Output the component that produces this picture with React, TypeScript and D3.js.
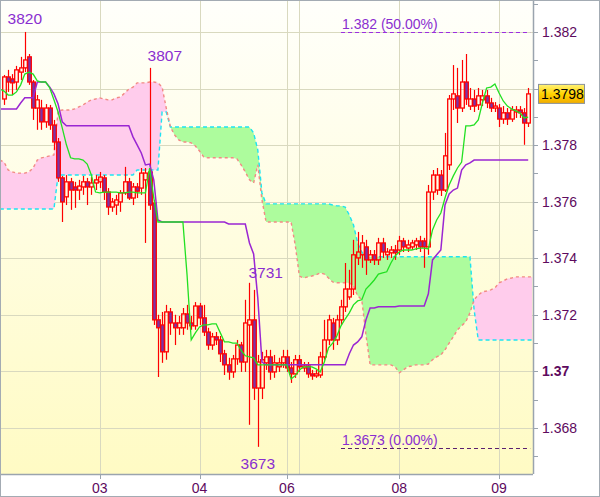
import * as React from "react";
import * as d3 from "d3";

// hourly bars, index 0..126
const OPEN = [
  1.37963, 1.38041, 1.38034, 1.38023, 1.38058, 1.38073, 1.38112, 1.38023, 1.37931, 1.37931,
  1.37882, 1.37931, 1.37871, 1.37811, 1.37684, 1.37617, 1.3767, 1.37652, 1.37641, 1.37652,
  1.3767, 1.37652, 1.37666, 1.3767, 1.37684, 1.37634, 1.37581, 1.37588, 1.37599, 1.37631,
  1.3767, 1.37613, 1.37652, 1.37648, 1.37677, 1.37705, 1.37595, 1.37182, 1.37164, 1.37069,
  1.3721, 1.37171, 1.37154, 1.37154, 1.37203, 1.37171, 1.37161, 1.37231, 1.37189, 1.37139,
  1.37093, 1.37122, 1.37111, 1.37062, 1.37023, 1.36998, 1.37044, 1.37093, 1.37033, 1.37164,
  1.37182, 1.36941, 1.36941, 1.3703, 1.37051, 1.36998, 1.37016, 1.3703, 1.37051, 1.37012,
  1.36991, 1.37041, 1.37012, 1.37019, 1.36991, 1.36984, 1.36987, 1.37051, 1.37111, 1.37171,
  1.37111, 1.37182, 1.37228, 1.37263, 1.37291, 1.37401, 1.37412, 1.3744, 1.37394, 1.37412,
  1.37394, 1.37454, 1.37412, 1.37419, 1.37429, 1.37429, 1.37461, 1.37436, 1.3744, 1.37447,
  1.37461, 1.37461, 1.3744, 1.37634, 1.37641, 1.37694, 1.37641, 1.3773, 1.37963, 1.37974,
  1.37931, 1.38023, 1.37938, 1.37963, 1.37942, 1.3796, 1.37974, 1.37949, 1.37931, 1.37931,
  1.37892, 1.37914, 1.37892, 1.37917, 1.37924, 1.37914, 1.37878,
];
const HIGH = [
  1.38048, 1.38066, 1.38051, 1.3808, 1.38112, 1.382, 1.38122, 1.3803, 1.37977, 1.3796,
  1.37945, 1.37942, 1.37889, 1.37825, 1.37691, 1.37694, 1.37684, 1.3767, 1.37677, 1.37691,
  1.37684, 1.37687, 1.37694, 1.37705, 1.37694, 1.37648, 1.37613, 1.37624, 1.37641, 1.37723,
  1.37684, 1.37666, 1.37666, 1.37719, 1.37719, 1.38073, 1.37606, 1.372, 1.3721, 1.37235,
  1.37224, 1.372, 1.37196, 1.37224, 1.37235, 1.37196, 1.37245, 1.37242, 1.37235, 1.37154,
  1.37136, 1.37139, 1.37125, 1.37076, 1.37048, 1.37058, 1.37111, 1.37104, 1.37253, 1.37313,
  1.37288, 1.37058, 1.37069, 1.37076, 1.37076, 1.37058, 1.37048, 1.37076, 1.37076, 1.37033,
  1.37058, 1.37058, 1.37033, 1.37033, 1.37005, 1.37005, 1.37069, 1.37182, 1.372, 1.37189,
  1.372, 1.37253, 1.37383, 1.37359, 1.37465, 1.37493, 1.37482, 1.37465, 1.37429, 1.37429,
  1.37472, 1.37472, 1.37436, 1.37443, 1.37447, 1.37479, 1.37472, 1.37465, 1.37465, 1.37472,
  1.37479, 1.37472, 1.37659, 1.37712, 1.37719, 1.37712, 1.37843, 1.37977, 1.38083, 1.38073,
  1.38101, 1.38122, 1.38002, 1.37995, 1.38002, 1.37995, 1.37995, 1.37967, 1.37952, 1.37945,
  1.37938, 1.37931, 1.37938, 1.37938, 1.37938, 1.37931, 1.38002,
];
const LOW = [
  1.37942, 1.37988, 1.37977, 1.37995, 1.3803, 1.38058, 1.38013, 1.37889, 1.37854, 1.37854,
  1.37861, 1.37854, 1.37783, 1.3767, 1.37528, 1.37588, 1.37571, 1.37578, 1.37606, 1.37624,
  1.37588, 1.37624, 1.37641, 1.37648, 1.37606, 1.37553, 1.37564, 1.37553, 1.37564, 1.37624,
  1.37606, 1.37588, 1.37613, 1.37624, 1.37454, 1.37571, 1.37164, 1.3698, 1.3703, 1.37041,
  1.37129, 1.37093, 1.37129, 1.37129, 1.37147, 1.37147, 1.37147, 1.37164, 1.37125, 1.37076,
  1.37076, 1.37093, 1.37033, 1.36987, 1.3697, 1.36977, 1.37023, 1.36998, 1.36998, 1.36811,
  1.36899, 1.36733, 1.36902, 1.37005, 1.3697, 1.36977, 1.36998, 1.37012, 1.36998, 1.36959,
  1.36977, 1.36998, 1.36998, 1.36977, 1.3697, 1.36977, 1.36977, 1.37041, 1.37093, 1.37076,
  1.37093, 1.37164, 1.3721, 1.37253, 1.3727, 1.37376, 1.37366, 1.37341, 1.37383, 1.37376,
  1.37376, 1.37401, 1.37394, 1.37401, 1.37394, 1.37412, 1.37422, 1.37422, 1.37429, 1.37429,
  1.37422, 1.37366, 1.37412, 1.37606, 1.37624, 1.3762, 1.37634, 1.37712, 1.37924, 1.37878,
  1.37917, 1.37942, 1.37924, 1.37917, 1.37924, 1.37938, 1.37931, 1.37917, 1.37917, 1.37864,
  1.37875, 1.37871, 1.37882, 1.37896, 1.37896, 1.37801, 1.37864,
];
const CLOSE = [
  1.38041, 1.38023, 1.3802, 1.38066, 1.38073, 1.38101, 1.38023, 1.37931, 1.3796, 1.37882,
  1.37931, 1.37871, 1.37811, 1.37684, 1.37599, 1.3767, 1.37641, 1.37641, 1.37655, 1.3767,
  1.37652, 1.37666, 1.37677, 1.37687, 1.37634, 1.37581, 1.37599, 1.37606, 1.37631, 1.3767,
  1.37613, 1.37652, 1.37637, 1.37701, 1.37701, 1.37588, 1.37182, 1.37154, 1.37069, 1.3721,
  1.37171, 1.37154, 1.37171, 1.37203, 1.37171, 1.37161, 1.37231, 1.37189, 1.37139, 1.37093,
  1.37122, 1.37111, 1.37062, 1.37023, 1.36998, 1.37044, 1.37093, 1.37033, 1.37171, 1.37182,
  1.36941, 1.37033, 1.37041, 1.37051, 1.36998, 1.3703, 1.3703, 1.37051, 1.37012, 1.36991,
  1.37041, 1.37016, 1.37019, 1.36991, 1.36984, 1.36991, 1.37051, 1.37111, 1.37182, 1.37111,
  1.37182, 1.37228, 1.37291, 1.37291, 1.37412, 1.37422, 1.37454, 1.37394, 1.37412, 1.37394,
  1.37454, 1.37422, 1.37422, 1.37429, 1.37419, 1.37461, 1.3744, 1.37447, 1.37454, 1.37461,
  1.3744, 1.3744, 1.37634, 1.37694, 1.37694, 1.37641, 1.37762, 1.37963, 1.37981, 1.37931,
  1.38023, 1.37963, 1.37963, 1.37938, 1.37974, 1.37974, 1.37949, 1.37931, 1.37938, 1.37892,
  1.37914, 1.37892, 1.37924, 1.37924, 1.37914, 1.37878, 1.37981,
];

// indicator series start one bar before the first candle
const IND_START = -1;
const TENKAN = [
  1.37998, 1.37991, 1.37977, 1.37977, 1.37988, 1.38013, 1.38051, 1.38058, 1.38051, 1.38027,
  1.38023, 1.38023, 1.38002, 1.3796, 1.37917, 1.37861, 1.37801, 1.37755, 1.37751, 1.37751,
  1.37747, 1.37733, 1.37694, 1.37634, 1.37631, 1.37634, 1.37634, 1.37634, 1.37634, 1.37631,
  1.37631, 1.37634, 1.37634, 1.37631, 1.37631, 1.37631, 1.37719, 1.37613, 1.37528, 1.37528,
  1.37528, 1.37528, 1.37528, 1.37528, 1.37528, 1.37341, 1.37111, 1.37136, 1.37157, 1.37164,
  1.37164, 1.37168, 1.37168, 1.37136, 1.37104, 1.37104, 1.371, 1.371, 1.37073, 1.37055,
  1.37051, 1.37048, 1.37023, 1.37023, 1.37023, 1.37023, 1.37023, 1.37023, 1.37023, 1.37023,
  1.36973, 1.36984, 1.37005, 1.37016, 1.37016, 1.37016, 1.37009, 1.36998, 1.37033, 1.37083,
  1.371, 1.37125, 1.37161, 1.37185, 1.37207, 1.37235, 1.37249, 1.37253, 1.37291, 1.37306,
  1.37323, 1.37344, 1.37348, 1.37352, 1.37383, 1.37408, 1.37422, 1.37429, 1.37429, 1.37429,
  1.37433, 1.37436, 1.37436, 1.37433, 1.375, 1.37535, 1.3756, 1.37613, 1.37659, 1.37691,
  1.37719, 1.3774, 1.37868, 1.37868, 1.37871, 1.37889, 1.37949, 1.38002, 1.38005, 1.38016,
  1.37984, 1.37956, 1.37938, 1.37928, 1.37921, 1.37914, 1.37896, 1.37899,
];
const KIJUN = [
  1.37928, 1.37928, 1.37928, 1.37928, 1.37928, 1.37949, 1.37967, 1.37967, 1.37967, 1.38023,
  1.38023, 1.38023, 1.38005, 1.37981, 1.37945, 1.37882, 1.37868, 1.37868, 1.37868, 1.37868,
  1.37868, 1.37868, 1.37868, 1.37868, 1.37868, 1.37868, 1.37868, 1.37868, 1.37868, 1.37868,
  1.37868, 1.37868, 1.37829, 1.37801, 1.37772, 1.3773, 1.37733, 1.37677, 1.37535, 1.37528,
  1.37528, 1.37528, 1.37528, 1.37528, 1.37528, 1.37528, 1.37528, 1.37528, 1.37528, 1.37528,
  1.37528, 1.37528, 1.37528, 1.37528, 1.37528, 1.37521, 1.37521, 1.37521, 1.37521, 1.37521,
  1.37454, 1.37415, 1.3726, 1.37033, 1.37023, 1.37023, 1.37023, 1.37023, 1.37023, 1.37023,
  1.37023, 1.37023, 1.37023, 1.37023, 1.37023, 1.37023, 1.37023, 1.37023, 1.37023, 1.37023,
  1.37023, 1.37023, 1.37023, 1.37023, 1.37062, 1.37093, 1.37104, 1.37122, 1.37182, 1.37224,
  1.37224, 1.37228, 1.37228, 1.37228, 1.37228, 1.37228, 1.37231, 1.37231, 1.37231, 1.37231,
  1.37231, 1.37231, 1.37231, 1.37274, 1.37394, 1.37412, 1.37429, 1.37588, 1.37627, 1.37641,
  1.37648, 1.37712, 1.3773, 1.37737, 1.37747, 1.37747, 1.37747, 1.37747, 1.37747, 1.37747,
  1.37747, 1.37747, 1.37747, 1.37747, 1.37747, 1.37747, 1.37747, 1.37747,
];
const SPAN_A = [
  1.37574, 1.37574, 1.37574, 1.37574, 1.37574, 1.37574, 1.37574, 1.37574, 1.37574, 1.37574,
  1.37574, 1.37574, 1.37574, 1.37574, 1.37694, 1.37694, 1.37694, 1.37694, 1.37694, 1.37694,
  1.37694, 1.37694, 1.37694, 1.37694, 1.37694, 1.37694, 1.37694, 1.37694, 1.37694, 1.37694,
  1.37694, 1.37694, 1.37694, 1.37712, 1.37712, 1.37712, 1.37712, 1.37712, 1.37712, 1.37917,
  1.37917, 1.37864, 1.37864, 1.37864, 1.37864, 1.37864, 1.37864, 1.37864, 1.37864, 1.37864,
  1.37864, 1.37864, 1.37864, 1.37864, 1.37864, 1.37864, 1.37864, 1.37864, 1.37864, 1.37864,
  1.37864, 1.37843, 1.37783, 1.37631, 1.37592, 1.37592, 1.37592, 1.37592, 1.37592, 1.37592,
  1.37592, 1.37592, 1.37592, 1.37592, 1.37592, 1.37592, 1.37592, 1.37592, 1.37592, 1.37592,
  1.37588, 1.37585, 1.37585, 1.37581, 1.37553, 1.37518, 1.37454, 1.37422, 1.37405, 1.37405,
  1.37405, 1.37405, 1.37405, 1.37405, 1.37405, 1.37405, 1.37405, 1.37405, 1.37405, 1.37405,
  1.37405, 1.37405, 1.37405, 1.37405, 1.37405, 1.37405, 1.37405, 1.37405, 1.37405, 1.37405,
  1.37405, 1.37405, 1.37405, 1.37405, 1.37217, 1.37111, 1.37111, 1.37111, 1.37111, 1.37111,
  1.37111, 1.37111, 1.37111, 1.37111, 1.37111, 1.37111, 1.37111, 1.37111, 1.37111,
];
const SPAN_B = [
  1.37747, 1.3774, 1.37712, 1.37705, 1.37701, 1.37701, 1.37701, 1.37705, 1.37719, 1.37747,
  1.37755, 1.37758, 1.37762, 1.37765, 1.37921, 1.37924, 1.37924, 1.37924, 1.37928, 1.37935,
  1.37942, 1.37952, 1.3796, 1.37963, 1.37967, 1.37963, 1.3796, 1.3796, 1.37967, 1.3797,
  1.37984, 1.37998, 1.38005, 1.3802, 1.3802, 1.3802, 1.38023, 1.38023, 1.3802, 1.38005,
  1.37931, 1.37864, 1.37836, 1.37818, 1.37811, 1.37811, 1.37808, 1.37797, 1.37779, 1.37758,
  1.37755, 1.37755, 1.37755, 1.37755, 1.37755, 1.37755, 1.37755, 1.37751, 1.3773, 1.37705,
  1.37677, 1.37666, 1.3773, 1.37606, 1.37528, 1.37528, 1.37528, 1.37528, 1.37528, 1.37528,
  1.37528, 1.37447, 1.37337, 1.3733, 1.37334, 1.37337, 1.37341, 1.37348, 1.37344, 1.3733,
  1.37316, 1.37313, 1.37313, 1.37313, 1.37313, 1.37302, 1.37267, 1.37253, 1.37129, 1.37023,
  1.37023, 1.37023, 1.37023, 1.37023, 1.37023, 1.37016, 1.36995, 1.37005, 1.37016, 1.37019,
  1.37023, 1.37023, 1.37023, 1.37026, 1.37041, 1.37051, 1.37058, 1.37076, 1.371, 1.37122,
  1.37147, 1.37161, 1.37175, 1.37207, 1.37253, 1.3727, 1.37281, 1.37284, 1.37288, 1.37295,
  1.37313, 1.3732, 1.37327, 1.3733, 1.37334, 1.37334, 1.37334, 1.37334, 1.37334,
];

const PRICE_TICKS = [1.368, 1.37, 1.372, 1.374, 1.376, 1.378, 1.38, 1.382];
const PRICE_LABELS = ["1.368", "1.37", "1.372", "1.374", "1.376", "1.378", "1.38", "1.382"];
const DAY_LABELS = ["03", "04", "06", "08", "09"];
const DAY_BARS = [23, 47, 68, 95, 119];
const GRID_BARS = [23, 47, 68, 71, 95, 119];

const FIB_PRICES = [1.382, 1.3673];
const FIB_LABELS = ["1.382 (50.00%)", "1.3673 (0.00%)"];
const FIB_FROM_BAR = 81;

const PEAK_BARS = [5, 35, 59, 61];
const PEAK_PRICES = [1.382, 1.3807, 1.3731, 1.3673];
const PEAK_TEXTS = ["3820", "3807", "3731", "3673"];

const FONT = "'Liberation Sans', Arial, sans-serif";

export default function App() {
  const W = 600;
  const H = 497;
  const plotR = 533;
  const plotB = 474;

  const x = d3.scaleLinear().domain([0, 126]).range([4, 528.2]);
  const y = d3.scaleLinear().domain([1.36637, 1.38313]).range([plotB, 0]);

  const cloud = SPAN_A.map((a, k) => ({ i: k + IND_START, a, b: SPAN_B[k] }));
  type C = (typeof cloud)[number];
  const belowA = d3.area<C>().x((d) => x(d.i)).y0((d) => y(d.a)).y1(plotB)(cloud) || "";
  const belowB = d3.area<C>().x((d) => x(d.i)).y0((d) => y(d.b)).y1(plotB)(cloud) || "";
  const aboveB = d3.area<C>().x((d) => x(d.i)).y0(0).y1((d) => y(d.b))(cloud) || "";
  const aboveA = d3.area<C>().x((d) => x(d.i)).y0(0).y1((d) => y(d.a))(cloud) || "";
  const lineA = d3.line<C>().x((d) => x(d.i)).y((d) => y(d.a))(cloud) || "";
  const lineB = d3.line<C>().x((d) => x(d.i)).y((d) => y(d.b))(cloud) || "";

  const series = (vals: number[]) =>
    d3
      .line<number>()
      .x((_, k) => x(k + IND_START))
      .y((v) => y(v))(vals) || "";

  const minor = y.ticks(16);
  const last = CLOSE[CLOSE.length - 1];
  const lastY = y(last);

  return (
    <svg
      width={W}
      height={H}
      style={{ position: "absolute", left: 0, top: 0, display: "block" }}
      fontFamily={FONT}
    >
      <defs>
        <linearGradient id="bg" x1="0" y1="0" x2="0" y2="1">
          <stop offset="0" stopColor="#fffffb" />
          <stop offset="1" stopColor="#fffbc4" />
        </linearGradient>
        <linearGradient id="tag" x1="0" y1="0" x2="0" y2="1">
          <stop offset="0" stopColor="#fff27a" />
          <stop offset="0.5" stopColor="#ffd400" />
          <stop offset="1" stopColor="#f2ac00" />
        </linearGradient>
        <clipPath id="plot">
          <rect x={1} y={1} width={plotR - 1} height={plotB - 1} />
        </clipPath>
        <clipPath id="clipGreen">
          <path d={belowA} />
        </clipPath>
        <clipPath id="clipPink">
          <path d={belowB} />
        </clipPath>
      </defs>

      <rect x={0} y={0} width={W} height={H} fill="#ffffff" />
      <rect x={1} y={1} width={plotR - 1} height={plotB - 1} fill="url(#bg)" />

      {/* grid */}
      <g stroke="#d9d9bf" strokeWidth={1}>
        {PRICE_TICKS.map((p) => (
          <line key={p} x1={1} x2={plotR} y1={Math.round(y(p)) + 0.5} y2={Math.round(y(p)) + 0.5} />
        ))}
        {GRID_BARS.map((b) => (
          <line key={b} x1={Math.round(x(b)) + 0.5} x2={Math.round(x(b)) + 0.5} y1={1} y2={plotB} />
        ))}
      </g>

      <g clipPath="url(#plot)">
        {/* ichimoku cloud */}
        <path d={aboveB} fill="#adfc9d" clipPath="url(#clipGreen)" />
        <path d={aboveA} fill="#ffccec" clipPath="url(#clipPink)" />
        <path d={lineA} fill="none" stroke="#1de4f2" strokeWidth={1.4} strokeDasharray="4 3" />
        <path d={lineB} fill="none" stroke="#f28a84" strokeWidth={1.4} strokeDasharray="3 3" />

        {/* candles */}
        {OPEN.map((o, i) => {
          const c = CLOSE[i];
          const cx = Math.round(x(i)) + 0.5;
          const top = y(Math.max(o, c));
          const bot = y(Math.min(o, c));
          const bear = c < o;
          return (
            <g key={i}>
              <line x1={cx} x2={cx} y1={y(HIGH[i])} y2={top} stroke="#ff0000" strokeWidth={1.2} />
              <line x1={cx} x2={cx} y1={bot} y2={y(LOW[i])} stroke="#ff0000" strokeWidth={1.2} />
              <rect
                x={cx - 1.8}
                y={top}
                width={3.6}
                height={Math.max(1, bot - top)}
                fill={bear ? "#7a34a8" : "none"}
                stroke="#ff0000"
                strokeWidth={1.3}
              />
            </g>
          );
        })}

        {/* tenkan / kijun */}
        <path d={series(KIJUN)} fill="none" stroke="#9a26d2" strokeWidth={1.5} />
        <path d={series(TENKAN)} fill="none" stroke="#22e022" strokeWidth={1.3} />

        {/* fibonacci levels */}
        {FIB_PRICES.map((p, k) => (
          <g key={p}>
            <line
              x1={x(FIB_FROM_BAR)}
              x2={x(126) + 2}
              y1={Math.round(y(p)) + 0.5}
              y2={Math.round(y(p)) + 0.5}
              stroke={k === 0 ? "#9d2ee0" : "#5a2070"}
              strokeWidth={1}
              strokeDasharray="4 3"
            />
            <text x={x(FIB_FROM_BAR) + 1} y={y(p) - 3} fontSize={14} fill="#8a2ed0">
              {FIB_LABELS[k]}
            </text>
          </g>
        ))}

        {/* high / low marks */}
        {PEAK_BARS.map((b, k) => {
          const px = x(b);
          const py = y(PEAK_PRICES[k]);
          const below = k === 3;
          const anchor = k === 0 || k === 3 ? "middle" : "start";
          const dx = k === 1 ? -2 : k === 2 ? -1 : 0;
          const dy = below ? 21 : k === 2 ? -6 : -8;
          return (
            <text key={k} x={px + dx} y={py + dy} fontSize={15.5} fill="#8a2ed0" textAnchor={anchor}>
              {PEAK_TEXTS[k]}
            </text>
          );
        })}
      </g>

      {/* axes */}
      <line x1={plotR + 0.5} x2={plotR + 0.5} y1={0} y2={plotB} stroke="#9aa4ae" strokeWidth={1.5} />
      <line x1={0} x2={plotR} y1={plotB + 0.5} y2={plotB + 0.5} stroke="#9aa4ae" strokeWidth={1.5} />
      {minor.map((t) => (
        <line
          key={t}
          x1={plotR}
          x2={plotR + 5}
          y1={Math.round(y(t)) + 0.5}
          y2={Math.round(y(t)) + 0.5}
          stroke="#9aa4ae"
        />
      ))}
      {PRICE_TICKS.map((p, k) => (
        <text
          key={p}
          x={542}
          y={y(p) + 5}
          fontSize={14}
          fill="#5e0a5e"
          fontWeight={PRICE_LABELS[k].length === 4 ? "bold" : "normal"}
        >
          {PRICE_LABELS[k]}
        </text>
      ))}
      {DAY_BARS.map((b, k) => (
        <g key={b}>
          <line
            x1={Math.round(x(b)) + 0.5}
            x2={Math.round(x(b)) + 0.5}
            y1={plotB}
            y2={plotB + 5}
            stroke="#9aa4ae"
          />
          <text x={x(b)} y={493} fontSize={14} fill="#5e0a5e" textAnchor="middle">
            {DAY_LABELS[k]}
          </text>
        </g>
      ))}

      {/* last price tag */}
      <rect x={538.5} y={lastY - 9.5} width={46} height={19} fill="url(#tag)" stroke="#8a929a" strokeWidth={1} />
      <text x={541} y={lastY + 5} fontSize={14} fill="#000000">
        {last.toFixed(4)}
      </text>

      <rect x={0.5} y={0.5} width={W - 1} height={H - 1} fill="none" stroke="#a3abb3" strokeWidth={1} />
    </svg>
  );
}
